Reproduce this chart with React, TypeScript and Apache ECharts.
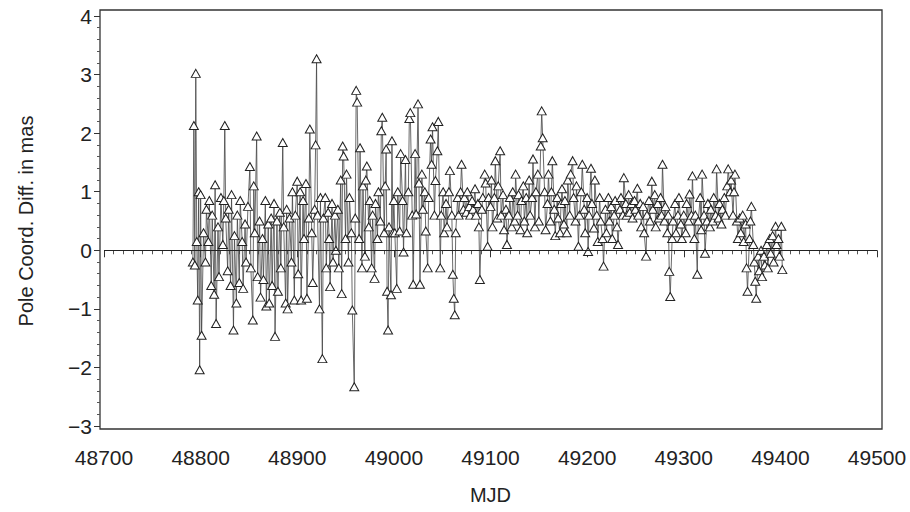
import React, { useEffect, useRef } from "react";
import * as echarts from "echarts";

// MJD, pole coordinate difference (mas), by period
const seg1: [number, number][] = [
  [48792,-0.2],[48793,2.13],[48794,-0.25],[48795,3.02],[48796,0.15],[48797,-0.85],[48798,1.0],[48799,-2.04],
  [48800,0.95],[48801,-1.45],[48803,0.3],[48805,-0.2],[48806,0.7],[48808,0.15],[48809,0.85],[48811,-0.6],
  [48812,0.6],[48814,-0.75],[48815,1.12],[48816,-1.25],[48818,0.4],[48819,-0.45],[48821,0.9],[48823,0.1],
  [48824,0.85],[48825,2.13],[48826,0.55],[48828,-0.35],[48829,0.7],[48831,-0.6],[48832,0.95],[48834,-1.36],
  [48835,0.25],[48837,-0.9],[48838,0.6],[48840,-0.55],[48841,0.85],[48843,0.15],[48844,-0.65],[48846,0.45],
  [48847,-0.2],[48849,0.75],[48851,1.43],[48852,-0.3],[48854,-1.19],[48855,1.1],[48856,0.3],[48858,1.95],
  [48859,-0.45],[48861,0.5],[48862,-0.8],[48864,0.2],[48865,-0.5],[48867,0.85],[48868,-0.95],[48870,0.45],
  [48871,-0.9],[48873,0.55],[48874,-0.6],[48876,0.8],[48877,-1.47],[48879,0.5],[48880,-0.7],[48882,0.65],
  [48883,-0.3],[48885,1.84],[48886,0.4],[48888,-0.9],[48889,0.7],[48890,-1.0],[48892,0.55],[48894,-0.2],
  [48895,1.0],[48897,-0.85],[48898,0.6],
];
const seg2: [number, number][] = [
  [48900,1.18],[48901,-0.4],[48903,1.0],[48904,-0.85],[48906,0.85],[48907,0.2],[48909,1.14],[48910,-0.82],
  [48912,0.55],[48913,2.07],[48915,0.3],[48916,-0.55],[48918,0.7],[48919,1.8],[48920,3.27],[48921,0.6],
  [48923,-1.0],[48924,0.9],[48926,-1.85],[48927,0.55],[48929,0.9],[48930,-0.3],[48932,0.65],[48933,0.2],
  [48934,-0.62],[48936,0.8],[48937,-0.2],[48939,0.6],[48940,0.0],[48942,0.7],[48943,-0.3],[48945,1.2],
  [48946,-0.74],[48947,1.78],[48948,1.61],[48950,0.2],[48951,1.3],[48953,-0.2],[48954,0.9],[48956,0.3],
  [48957,-1.02],[48959,-2.33],[48960,0.55],[48961,2.73],[48962,2.53],[48964,0.2],[48965,1.75],[48967,-0.3],
  [48968,1.1],[48970,-0.1],[48971,1.2],[48972,1.44],[48974,0.4],[48975,0.85],[48977,-0.3],[48978,0.6],
  [48980,-0.48],[48981,0.8],[48983,0.2],[48984,1.0],[48986,0.5],[48987,2.04],[48988,2.27],[48990,0.3],
  [48991,1.1],[48992,1.73],[48993,-0.7],[48994,-1.36],[48995,0.4],[48997,-0.76],[48998,1.87],[48999,0.3],
];
const seg3: [number, number][] = [
  [49000,0.85],[49001,0.3],[49003,-0.65],[49004,1.0],[49006,0.33],[49007,1.65],[49009,0.85],[49010,-0.03],
  [49012,1.55],[49013,0.3],[49015,1.0],[49016,2.25],[49017,2.35],[49019,0.6],[49020,-0.58],[49022,1.65],
  [49023,0.62],[49025,2.5],[49026,1.15],[49027,-0.58],[49029,1.3],[49030,0.7],[49032,1.0],[49033,0.33],
  [49035,-0.3],[49036,0.9],[49038,1.9],[49039,1.47],[49040,2.11],[49042,0.6],[49043,1.19],[49045,1.7],
  [49046,2.2],[49048,-0.3],[49049,0.6],[49051,1.0],[49052,0.3],[49054,0.8],[49055,0.4],[49057,1.0],
  [49058,1.36],[49060,0.6],[49061,-0.41],[49062,-0.82],[49063,-1.1],[49064,0.3],[49066,0.9],[49067,0.6],
  [49069,1.0],[49070,1.47],[49072,0.7],[49073,0.9],[49075,0.65],[49076,1.0],[49078,0.75],[49079,0.6],
  [49081,0.85],[49082,0.7],[49084,1.05],[49085,0.6],[49087,0.8],[49088,0.4],[49089,-0.5],[49091,0.7],
  [49092,0.9],[49094,1.3],[49095,1.15],[49097,0.07],[49098,0.9],[49100,0.75],
];
const seg4: [number, number][] = [
  [49101,1.2],[49102,0.4],[49104,0.9],[49105,1.53],[49107,0.55],[49108,1.1],[49110,1.7],[49111,0.6],
  [49113,0.95],[49114,0.35],[49116,0.7],[49117,0.1],[49119,0.6],[49120,0.9],[49122,0.4],[49123,1.0],
  [49125,0.5],[49126,1.3],[49128,0.6],[49129,0.95],[49131,0.35],[49132,0.85],[49134,1.1],[49135,0.5],
  [49137,0.9],[49138,0.3],[49140,1.2],[49141,0.6],[49143,0.9],[49144,1.56],[49146,0.4],[49147,1.0],
  [49149,1.3],[49150,0.5],[49152,1.78],[49153,2.38],[49154,1.92],[49156,1.0],[49157,0.35],[49159,0.8],
  [49160,1.3],[49162,0.5],[49163,1.0],[49164,1.53],[49166,0.7],[49167,0.25],[49169,0.9],[49170,0.55],
  [49172,0.3],[49173,0.8],[49174,1.05],[49176,0.45],[49177,0.85],[49179,0.3],[49180,1.2],[49182,0.6],
  [49183,1.3],[49185,1.53],[49186,0.9],[49188,0.5],[49189,1.1],[49191,0.07],[49192,0.6],[49194,1.0],
  [49195,1.47],[49197,0.7],[49198,0.3],[49200,0.9],
];
const seg5: [number, number][] = [
  [49201,-0.02],[49202,0.6],[49204,1.4],[49205,0.8],[49207,0.38],[49208,1.2],[49210,0.6],[49211,0.15],
  [49213,0.9],[49214,0.5],[49216,0.2],[49217,-0.27],[49219,0.7],[49220,0.3],[49222,0.9],[49223,0.5],
  [49225,0.75],[49226,0.2],[49228,0.6],[49229,0.85],[49231,0.4],[49232,0.1],[49234,0.7],[49235,0.9],
  [49237,0.6],[49238,1.24],[49240,0.8],[49241,0.6],[49243,0.95],[49244,0.65],[49246,0.8],[49247,0.55],
  [49249,0.85],[49250,0.7],[49252,1.06],[49253,0.6],[49255,0.8],[49256,0.4],[49258,0.75],[49259,0.3],
  [49261,-0.1],[49262,0.6],[49264,0.85],[49265,0.5],[49267,1.18],[49268,0.7],[49270,0.95],[49271,0.4],
  [49273,0.8],[49274,0.55],[49276,0.9],[49277,0.6],[49278,1.47],[49280,0.5],[49281,0.75],[49283,0.3],
  [49284,0.6],[49285,-0.36],[49286,-0.79],[49288,0.2],[49289,0.5],[49291,0.8],[49292,0.3],[49294,0.6],
  [49295,0.9],[49297,0.45],[49298,0.2],[49300,0.6],
];
const seg6: [number, number][] = [
  [49302,0.3],[49303,0.8],[49305,0.5],[49306,0.96],[49308,0.6],[49309,1.27],[49311,0.2],[49312,0.6],
  [49314,-0.41],[49315,0.5],[49317,0.9],[49318,0.35],[49319,1.3],[49321,0.6],[49322,-0.05],[49324,0.5],
  [49325,0.8],[49327,0.4],[49328,0.7],[49330,0.5],[49331,0.9],[49333,0.6],[49334,1.39],[49336,0.55],
  [49337,0.8],[49339,0.45],[49340,0.7],[49342,0.9],[49343,0.6],[49345,1.1],[49346,1.39],[49348,1.0],
  [49349,1.2],[49351,0.6],[49352,1.0],[49353,1.3],[49355,0.5],[49356,0.2],[49358,0.55],[49359,0.3],
  [49361,0.6],[49362,0.15],[49364,0.45],[49365,-0.3],[49366,-0.7],[49368,0.2],[49369,0.5],[49370,0.75],
  [49372,0.1],[49373,-0.2],[49374,-0.53],[49375,-0.82],[49377,-0.1],[49378,-0.35],[49380,0.0],[49381,-0.45],
  [49383,-0.1],[49384,-0.25],[49386,0.1],[49387,-0.3],[49389,0.2],[49390,-0.05],[49392,0.25],[49393,-0.2],
  [49395,0.41],[49396,0.1],[49398,0.2],[49399,-0.1],[49401,0.41],[49402,-0.33],
];

const xTitle = "MJD";
const yTitle = "Pole Coord. Diff. in mas";

const FONT = "Liberation Sans, Arial, Helvetica, sans-serif";
const TEXT = "#222";

export default function App() {
  const ref = useRef<HTMLDivElement>(null);
  useEffect(() => {
    if (!ref.current) return;
    const chart = echarts.init(ref.current, null, { renderer: "svg" });
    const data = [...seg1, ...seg2, ...seg3, ...seg4, ...seg5, ...seg6];
    chart.setOption({
      animation: false,
      backgroundColor: "#ffffff",
      grid: { left: 104, right: 33, top: 16, bottom: 86 },
      xAxis: {
        type: "value",
        min: 48700,
        max: 49500,
        interval: 100,
        offset: 3,
        axisLine: { show: false },
        axisTick: { show: true, length: 7, lineStyle: { color: "#333", width: 1 } },
        minorTick: { show: true, splitNumber: 10, length: 4, lineStyle: { color: "#555", width: 1 } },
        splitLine: { show: false },
        axisLabel: {
          fontSize: 21,
          color: TEXT,
          margin: 18,
          fontFamily: FONT,
          formatter: (v: number) => String(v),
        },
        name: xTitle,
        nameLocation: "middle",
        nameGap: 56,
        nameTextStyle: { fontSize: 20, color: TEXT, fontFamily: FONT },
      },
      yAxis: {
        type: "value",
        min: -3,
        max: 4,
        interval: 1,
        offset: 4,
        axisLine: { show: false },
        axisTick: { show: true, length: 6, lineStyle: { color: "#333", width: 1 } },
        minorTick: { show: true, splitNumber: 5, length: 3, lineStyle: { color: "#555", width: 1 } },
        splitLine: { show: false },
        axisLabel: {
          fontSize: 21,
          color: TEXT,
          margin: 8,
          fontFamily: FONT,
          formatter: (v: number) => (v < 0 ? "\u2212" + Math.abs(v) : String(v)),
        },
        name: yTitle,
        nameLocation: "middle",
        nameGap: 64,
        nameRotate: 90,
        nameTextStyle: { fontSize: 20, color: TEXT, fontFamily: FONT },
      },
      graphic: [
        {
          type: "rect",
          silent: true,
          z: 0,
          shape: { x: 100, y: 10, width: 782, height: 419 },
          style: { fill: "none", stroke: "#333", lineWidth: 1.3 },
        },
      ],
      series: [
        {
          type: "line",
          data,
          symbol: "triangle",
          symbolSize: [9, 8],
          showAllSymbol: true,
          lineStyle: { color: "#444", width: 0.8 },
          itemStyle: { color: "#ffffff", borderColor: "#222", borderWidth: 1 },
          markLine: {
            silent: true,
            symbol: "none",
            label: { show: false },
            lineStyle: { color: "#222", width: 1.2, type: "solid" },
            data: [{ yAxis: 0 }],
          },
        },
      ],
    });
    return () => chart.dispose();
  }, []);
  return (
    <div
      ref={ref}
      style={{ position: "fixed", left: 0, top: 0, width: 910, height: 512 }}
    />
  );
}
